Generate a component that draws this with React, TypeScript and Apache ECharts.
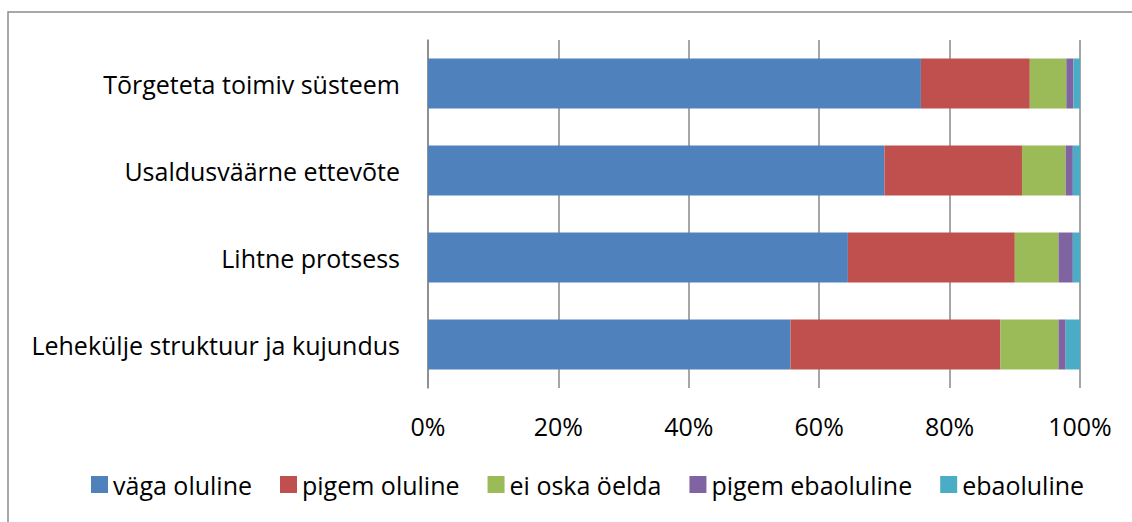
import React, { useEffect, useRef } from "react";
import * as echarts from "echarts";

const categories = [
  "Tõrgeteta toimiv süsteem",
  "Usaldusväärne ettevõte",
  "Lihtne protsess",
  "Lehekülje struktuur ja kujundus",
];
const seriesNames = ["väga oluline", "pigem oluline", "ei oska öelda", "pigem ebaoluline", "ebaoluline"];
const vagaOluline = [75.6, 70.0, 64.4, 55.6];
const pigemOluline = [16.7, 21.1, 25.6, 32.2];
const eiOskaOelda = [5.6, 6.7, 6.7, 8.9];
const pigemEbaoluline = [1.1, 1.1, 2.2, 1.1];
const ebaoluline = [1.1, 1.1, 1.1, 2.2];
const xTicks = [0, 20, 40, 60, 80, 100];
const colors = ["#4F81BD", "#C0504D", "#9BBB59", "#8064A2", "#4BACC6"];

const FONT = "'Open Sans', Lato, sans-serif";

export default function App() {
  const ref = useRef<HTMLDivElement>(null);
  useEffect(() => {
    if (!ref.current) return;
    const chart = echarts.init(ref.current, null, { renderer: "svg" });
    const data = [vagaOluline, pigemOluline, eiOskaOelda, pigemEbaoluline, ebaoluline];
    chart.setOption({
      animation: false,
      textStyle: { fontFamily: FONT },
      graphic: [
        {
          type: "rect",
          shape: { x: 8, y: 12, width: 1300, height: 700 },
          style: { fill: "none", stroke: "#8c8c8c", lineWidth: 1.5 },
          silent: true,
        },
      ],
      grid: { left: 428, right: 52, top: 40, bottom: 134 },
      legend: {
        bottom: 20,
        left: 86,
        icon: "rect",
        itemWidth: 17,
        itemHeight: 17,
        itemGap: 28,
        data: seriesNames,
        textStyle: { fontSize: 25, color: "#000", fontFamily: FONT },
      },
      xAxis: {
        type: "value",
        min: 0,
        max: 100,
        interval: 20,
        axisLine: { show: false },
        axisTick: { show: false },
        splitLine: { show: true, lineStyle: { color: "#888888", width: 1.5 } },
        axisLabel: {
          margin: 25,
          fontSize: 25,
          color: "#000",
          fontFamily: FONT,
          formatter: (v: number) => (xTicks.includes(v) ? v + "%" : ""),
        },
      },
      yAxis: {
        type: "category",
        inverse: true,
        data: categories,
        axisLine: { show: true, lineStyle: { color: "#888888", width: 1.5 } },
        axisTick: { show: false },
        axisLabel: { margin: 28, fontSize: 25, color: "#000", fontFamily: FONT },
      },
      series: seriesNames.map((name, i) => ({
        name,
        type: "bar",
        stack: "total",
        barWidth: 50,
        itemStyle: { color: colors[i] },
        data: data[i],
      })),
    });
    return () => chart.dispose();
  }, []);
  return (
    <div
      ref={ref}
      style={{ position: "absolute", left: 0, top: 0, width: 1132, height: 522, background: "#fff" }}
    />
  );
}
